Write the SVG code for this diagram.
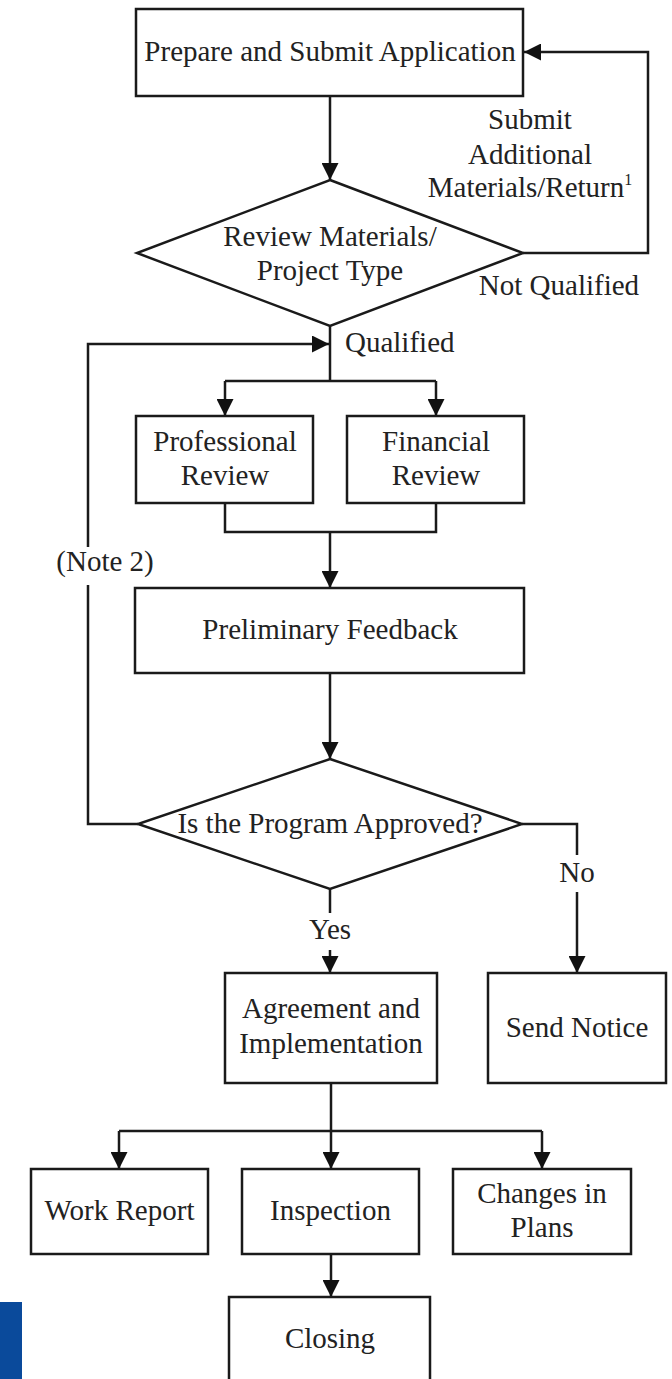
<svg xmlns="http://www.w3.org/2000/svg" width="672" height="1379" viewBox="0 0 672 1379">
<style>
.box{fill:#fff;stroke:#1a1a1a;stroke-width:2.5}
.ln{fill:none;stroke:#1a1a1a;stroke-width:2.5}
.arr{fill:none;stroke:#1a1a1a;stroke-width:2.5;marker-end:url(#ah)}
text{font-family:"Liberation Serif","Times New Roman",serif;font-size:29px;fill:#222;text-anchor:middle}
.st{text-anchor:start}
</style>
<defs>
<marker id="ah" markerUnits="userSpaceOnUse" markerWidth="17" markerHeight="17" refX="17" refY="8.5" orient="auto">
<path d="M0,0 L17,8.5 L0,17 Z" fill="#111"/>
</marker>
</defs>
<rect width="672" height="1379" fill="#fff"/>
<rect x="0" y="1302" width="22" height="77" fill="#0a4a9b"/>
<g id="connectors">
<path class="arr" d="M330,96 V180"/>
<path class="arr" d="M523,253 H648 V52 H524"/>
<path class="ln" d="M330,326 V381"/>
<path class="ln" d="M225,381 H436"/>
<path class="arr" d="M225,381 V416"/>
<path class="arr" d="M436,381 V416"/>
<path class="ln" d="M225,503 V532 H436 V503"/>
<path class="arr" d="M330,532 V588"/>
<path class="arr" d="M330,673 V759"/>
<path class="ln" d="M138,824 H88 V585"/>
<path class="arr" d="M88,547 V344 H329"/>
<path class="ln" d="M330,889 V913"/>
<path class="arr" d="M330,950 V973"/>
<path class="ln" d="M522,824 H577 V855"/>
<path class="arr" d="M577,892 V973"/>
<path class="ln" d="M331,1083 V1131"/>
<path class="ln" d="M119,1131 H542"/>
<path class="arr" d="M119,1131 V1169"/>
<path class="arr" d="M331,1131 V1169"/>
<path class="arr" d="M542,1131 V1169"/>
<path class="arr" d="M331,1254 V1297"/>
</g>
<g id="labels">
<text x="530" y="129">Submit</text>
<text x="530" y="164">Additional</text>
<text x="530" y="197">Materials/Return<tspan font-size="16" dy="-12">1</tspan></text>
<text x="559" y="295">Not Qualified</text>
<text class="st" x="345" y="352">Qualified</text>
<text x="105" y="571">(Note 2)</text>
<text x="577" y="882">No</text>
<text x="330" y="939">Yes</text>
</g>
<g id="n-prepare">
<rect class="box" x="136" y="9" width="387" height="87"/>
<text x="330" y="61">Prepare and Submit Application</text>
</g>
<g id="n-review">
<polygon class="box" points="330,180 523,253 330,326 137,253"/>
<text x="330" y="246">Review Materials/</text>
<text x="330" y="280">Project Type</text>
</g>
<g id="n-professional">
<rect class="box" x="136" y="416" width="177" height="87"/>
<text x="225" y="451">Professional</text>
<text x="225" y="485">Review</text>
</g>
<g id="n-financial">
<rect class="box" x="347" y="416" width="177" height="87"/>
<text x="436" y="451">Financial</text>
<text x="436" y="485">Review</text>
</g>
<g id="n-preliminary">
<rect class="box" x="135" y="588" width="389" height="85"/>
<text x="330" y="639">Preliminary Feedback</text>
</g>
<g id="n-approved">
<polygon class="box" points="330,759 522,824 330,889 138,824"/>
<text x="330" y="833">Is the Program Approved?</text>
</g>
<g id="n-agreement">
<rect class="box" x="225" y="973" width="212" height="110"/>
<text x="331" y="1018">Agreement and</text>
<text x="331" y="1053">Implementation</text>
</g>
<g id="n-notice">
<rect class="box" x="488" y="973" width="178" height="110"/>
<text x="577" y="1037">Send Notice</text>
</g>
<g id="n-workreport">
<rect class="box" x="31" y="1169" width="177" height="85"/>
<text x="119.5" y="1220">Work Report</text>
</g>
<g id="n-inspection">
<rect class="box" x="242" y="1169" width="177" height="85"/>
<text x="330.5" y="1220">Inspection</text>
</g>
<g id="n-changes">
<rect class="box" x="453" y="1169" width="178" height="85"/>
<text x="542" y="1203">Changes in</text>
<text x="542" y="1237">Plans</text>
</g>
<g id="n-closing">
<rect class="box" x="229" y="1297" width="201" height="100"/>
<text x="330" y="1348">Closing</text>
</g>
</svg>
